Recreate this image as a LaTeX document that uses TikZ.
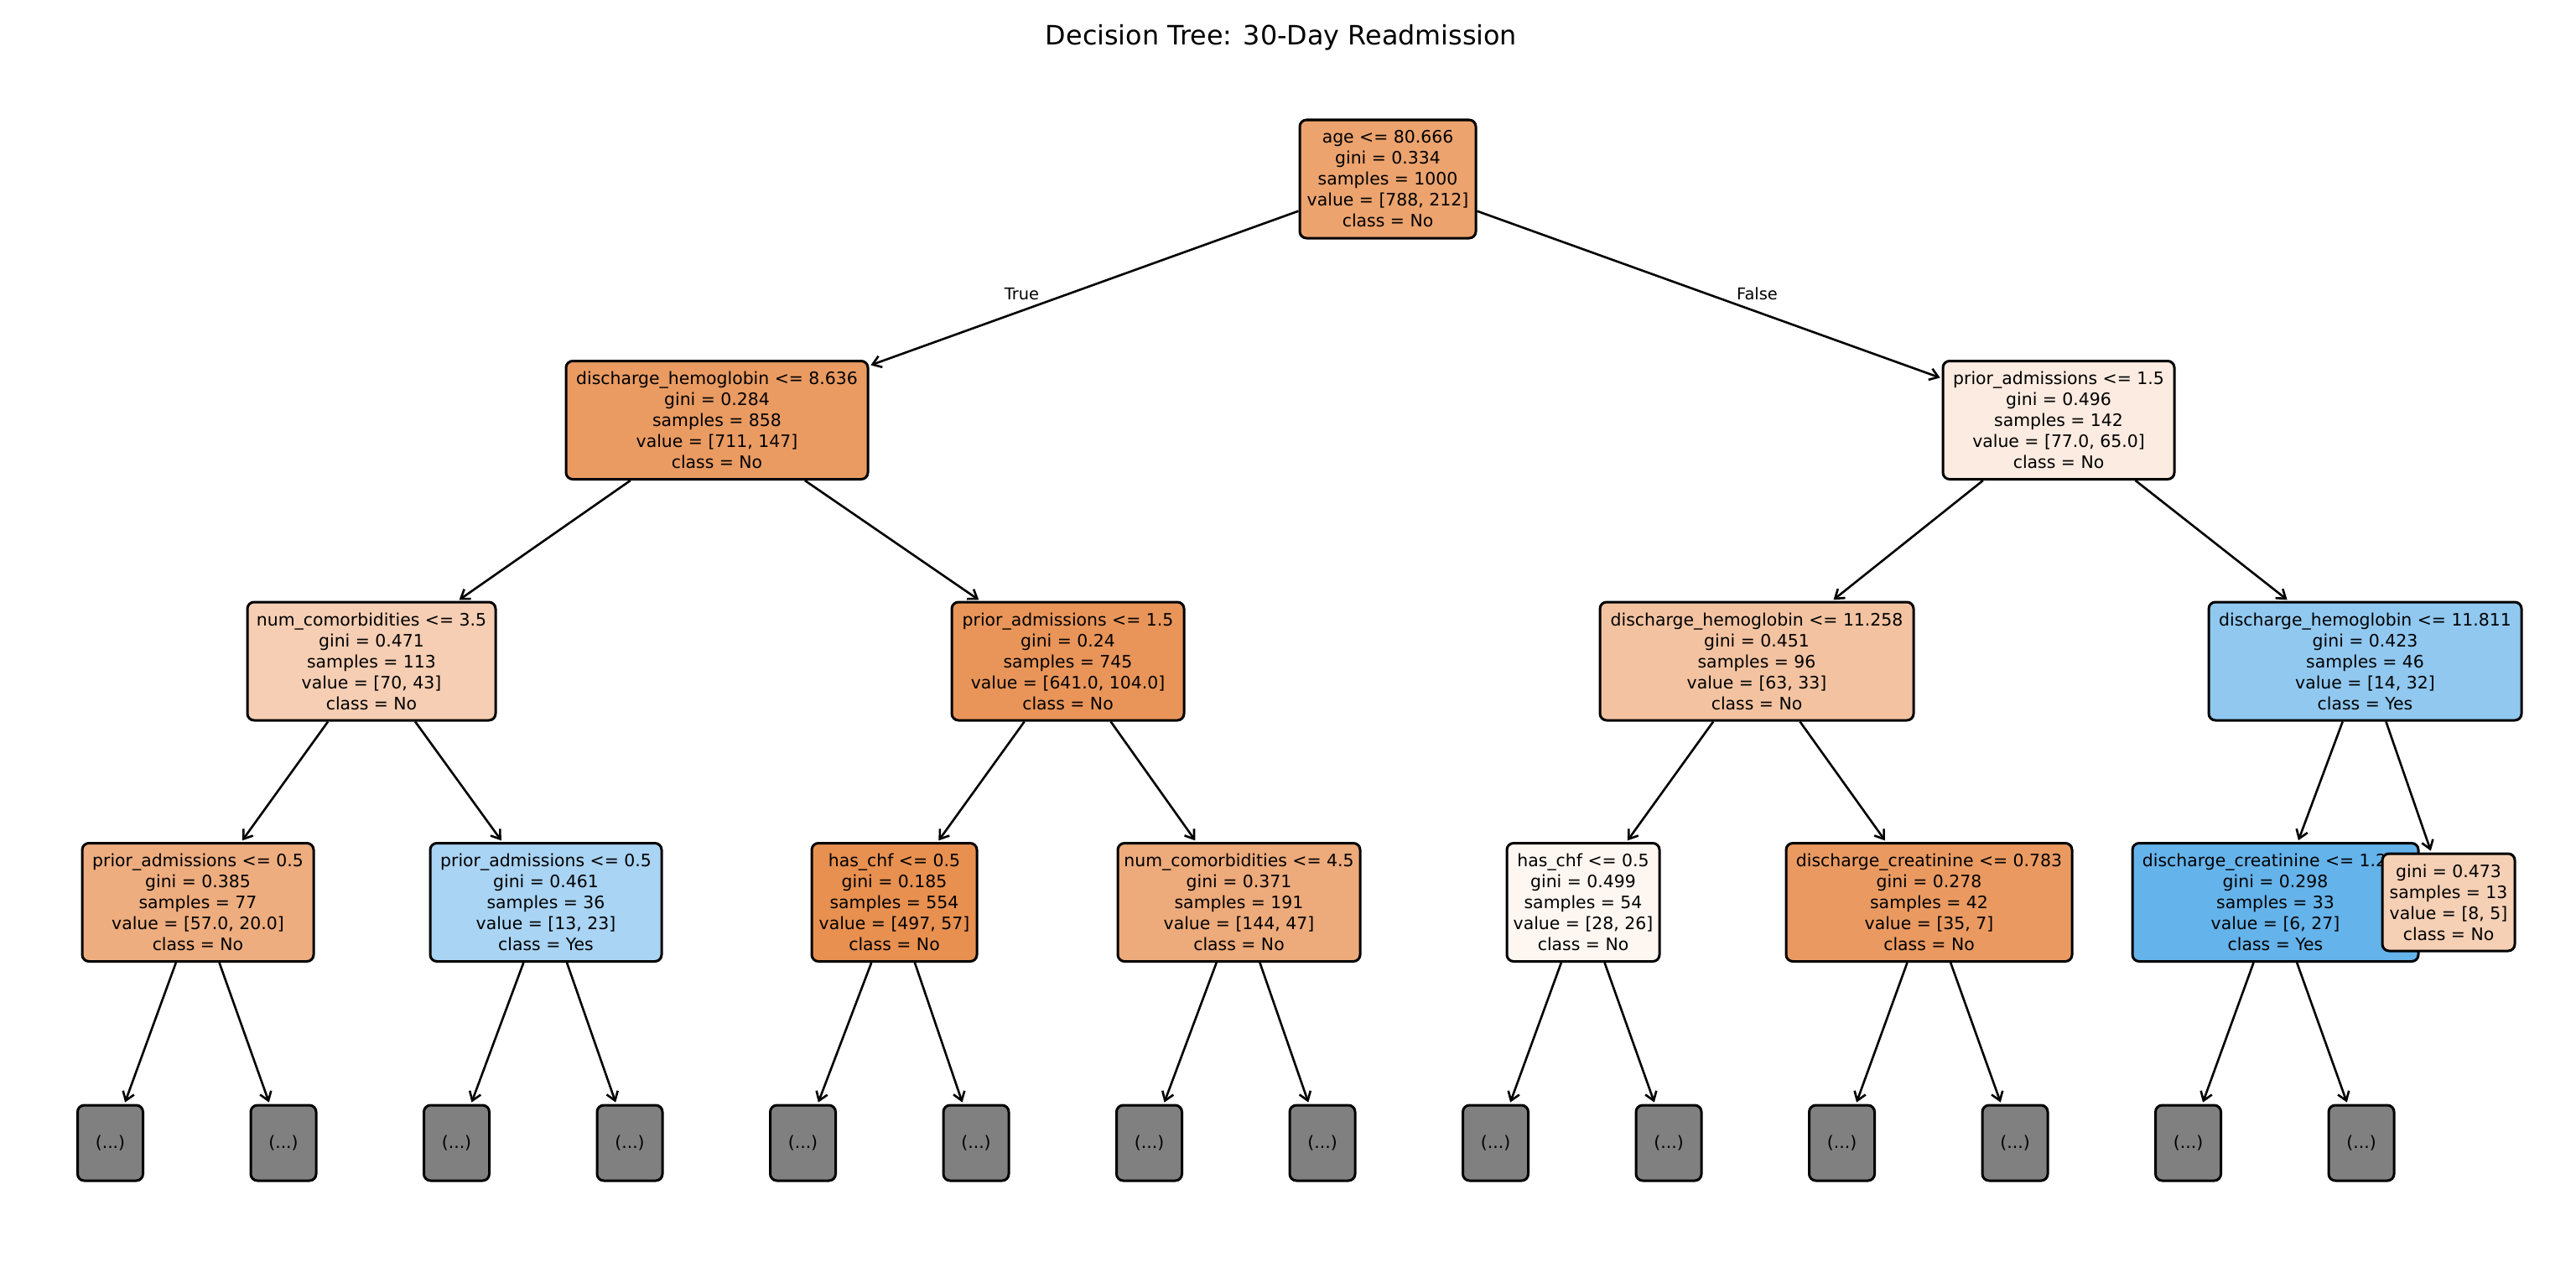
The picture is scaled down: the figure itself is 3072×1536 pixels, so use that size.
\documentclass[tikz,border=0pt]{standalone}
\usepackage{fontspec}
\setmainfont{DejaVu Sans}
\usetikzlibrary{arrows.meta}
\definecolor{cA}{RGB}{236,163,110}
\definecolor{cB}{RGB}{234,155,98}
\definecolor{cC}{RGB}{251,235,224}
\definecolor{cD}{RGB}{245,206,179}
\definecolor{cE}{RGB}{233,149,89}
\definecolor{cF}{RGB}{243,195,161}
\definecolor{cG}{RGB}{144,200,240}
\definecolor{cH}{RGB}{238,173,127}
\definecolor{cI}{RGB}{169,212,244}
\definecolor{cJ}{RGB}{232,144,80}
\definecolor{cK}{RGB}{237,170,122}
\definecolor{cL}{RGB}{253,246,241}
\definecolor{cM}{RGB}{234,154,97}
\definecolor{cN}{RGB}{101,179,235}
\definecolor{cO}{RGB}{245,208,181}
\definecolor{cGray}{RGB}{128,128,128}
\begin{document}
\begin{tikzpicture}[x=0.5pt,y=-0.5pt,
  tn/.style={draw=black,line width=1.5pt,rounded corners=4pt,align=center,inner sep=0pt,
    font=\fontsize{10.2}{12.5}\selectfont,minimum height=70.5pt},
  ed/.style={line width=1.3pt,-{Straight Barb[length=5pt,width=7pt]},shorten >=1pt},
  dots/.style={tn,fill=cGray,minimum width=39pt,minimum height=45pt},
  lab/.style={font=\fontsize{9.7}{11}\selectfont,anchor=base}]
\useasboundingbox[fill=white] (0,0) rectangle (3072,1536);
\node[anchor=base,font=\fontsize{15.9}{18}\selectfont] (title) at (1528,54) {Decision Tree: 30-Day Readmission};
% level 0
\node[tn,fill=cA,minimum width=105pt] (n0) at (1655,213.5) {age <= 80.666\\gini = 0.334\\samples = 1000\\value = [788, 212]\\class = No};
% level 1
\node[tn,fill=cB,minimum width=180pt] (n1) at (855,501) {discharge\_hemoglobin <= 8.636\\gini = 0.284\\samples = 858\\value = [711, 147]\\class = No};
\node[tn,fill=cC,minimum width=138pt] (n2) at (2455,501) {prior\_admissions <= 1.5\\gini = 0.496\\samples = 142\\value = [77.0, 65.0]\\class = No};
% level 2
\node[tn,fill=cD,minimum width=148pt] (n3) at (443,788.5) {num\_comorbidities <= 3.5\\gini = 0.471\\samples = 113\\value = [70, 43]\\class = No};
\node[tn,fill=cE,minimum width=138.5pt] (n4) at (1273.5,788.5) {prior\_admissions <= 1.5\\gini = 0.24\\samples = 745\\value = [641.0, 104.0]\\class = No};
\node[tn,fill=cF,minimum width=187pt] (n5) at (2095,788.5) {discharge\_hemoglobin <= 11.258\\gini = 0.451\\samples = 96\\value = [63, 33]\\class = No};
\node[tn,fill=cG,minimum width=186.5pt] (n6) at (2820.5,788.5) {discharge\_hemoglobin <= 11.811\\gini = 0.423\\samples = 46\\value = [14, 32]\\class = Yes};
% level 3
\node[tn,fill=cH,minimum width=138pt] (n7) at (236,1076) {prior\_admissions <= 0.5\\gini = 0.385\\samples = 77\\value = [57.0, 20.0]\\class = No};
\node[tn,fill=cI,minimum width=138pt] (n8) at (651,1076) {prior\_admissions <= 0.5\\gini = 0.461\\samples = 36\\value = [13, 23]\\class = Yes};
\node[tn,fill=cJ,minimum width=98.5pt] (n9) at (1066.5,1076) {has\_chf <= 0.5\\gini = 0.185\\samples = 554\\value = [497, 57]\\class = No};
\node[tn,fill=cK,minimum width=144.5pt] (n10) at (1477.5,1076) {num\_comorbidities <= 4.5\\gini = 0.371\\samples = 191\\value = [144, 47]\\class = No};
\node[tn,fill=cL,minimum width=91pt] (n11) at (1888,1076) {has\_chf <= 0.5\\gini = 0.499\\samples = 54\\value = [28, 26]\\class = No};
\node[tn,fill=cM,minimum width=170.5pt] (n12) at (2300.5,1076) {discharge\_creatinine <= 0.783\\gini = 0.278\\samples = 42\\value = [35, 7]\\class = No};
\node[tn,fill=cN,minimum width=170.5pt] (n13) at (2713.5,1076) {discharge\_creatinine <= 1.285\\gini = 0.298\\samples = 33\\value = [6, 27]\\class = Yes};
\node[tn,fill=cO,minimum width=79pt,minimum height=58pt] (n14) at (2920,1076) {gini = 0.473\\samples = 13\\value = [8, 5]\\class = No};
% level 4
\foreach \k in {0,...,13}{
  \node[dots] (d\k) at ({131.5+206.5*\k},1363) {(...)};
}
% edges
\draw[ed] (n0) -- (n1);
\draw[ed] (n0) -- (n2);
\draw[ed] (n1) -- (n3);
\draw[ed] (n1) -- (n4);
\draw[ed] (n2) -- (n5);
\draw[ed] (n2) -- (n6);
\draw[ed] (n3) -- (n7);
\draw[ed] (n3) -- (n8);
\draw[ed] (n4) -- (n9);
\draw[ed] (n4) -- (n10);
\draw[ed] (n5) -- (n11);
\draw[ed] (n5) -- (n12);
\draw[ed] (n6) -- (n13);
\draw[ed] (n6) -- (n14);
\draw[ed] (n7) -- (d0);
\draw[ed] (n7) -- (d1);
\draw[ed] (n8) -- (d2);
\draw[ed] (n8) -- (d3);
\draw[ed] (n9) -- (d4);
\draw[ed] (n9) -- (d5);
\draw[ed] (n10) -- (d6);
\draw[ed] (n10) -- (d7);
\draw[ed] (n11) -- (d8);
\draw[ed] (n11) -- (d9);
\draw[ed] (n12) -- (d10);
\draw[ed] (n12) -- (d11);
\draw[ed] (n13) -- (d12);
\draw[ed] (n13) -- (d13);
% edge labels
\node[lab] (lt) at (1218.5,357) {True};
\node[lab] (lf) at (2095.5,357) {False};
\end{tikzpicture}
\end{document}
